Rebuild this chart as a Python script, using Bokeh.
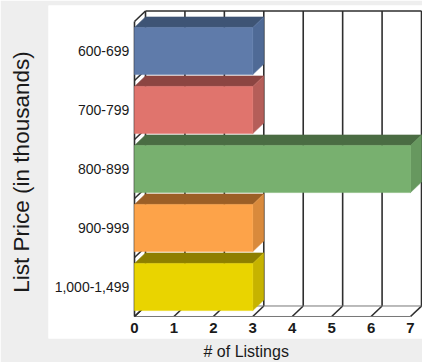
from bokeh.plotting import figure
from bokeh.models import Range1d, Title, ColumnDataSource, FixedTicker
from bokeh.core.properties import value
from bokeh.embed import file_html
from bokeh.resources import INLINE

# ---- data ----
categories = ["600-699", "700-799", "800-899", "900-999", "1,000-1,499"]
listings = [3, 3, 7, 3, 3]
x_ticks = [0, 1, 2, 3, 4, 5, 6, 7]
x_tick_labels = ["0", "1", "2", "3", "4", "5", "6", "7"]

front_colors = ["#5F7BAA", "#E0746D", "#78B06F", "#FDA349", "#E9D400"]
top_colors = ["#3E5475", "#8C4542", "#4A6C43", "#9B5F26", "#8E7F00"]
side_colors = ["#4F6A96", "#B55E59", "#67985F", "#D98A3C", "#C6B300"]

# ---- 3D styling ----
DX, DY = 0.279, 0.178     # depth offset in data units
HALF = 0.4                # half bar thickness
FONT = "Liberation Sans"

n = len(categories)
ypos = [n - 1 - i for i in range(n)]   # first category on top
xmax = max(x_ticks)
y_lo, y_hi = -0.5, n - 0.5

p = figure(width=422, height=362, output_backend="svg", toolbar_location=None,
           x_range=Range1d(-2.181, 7.304), y_range=Range1d(-0.873, 4.771),
           x_axis_location=None, min_border_left=48, min_border_right=0,
           min_border_top=5, min_border_bottom=24)
p.background_fill_color = "white"
p.border_fill_color = "#EEEEEE"
p.outline_line_color = None
p.grid.grid_line_color = None

# y axis only carries the title
ax = p.yaxis[0]
ax.ticker = FixedTicker(ticks=[])
ax.axis_label = "List Price (in thousands)"
ax.axis_label_text_font = FONT
ax.axis_label_text_font_size = "22.5px"
ax.axis_label_text_font_style = "normal"
ax.axis_label_text_color = "#1a1a1a"
ax.axis_label_standoff = 15
ax.major_label_standoff = 0
ax.major_tick_line_color = None
ax.minor_tick_line_color = None
ax.major_tick_out = 0
ax.major_tick_in = 0
ax.minor_tick_out = 0
ax.axis_line_color = None

# ---- back wall grid ----
wall_col = "#2e2e2e"
p.segment(x0=[k + DX for k in x_ticks], y0=[y_lo + DY] * len(x_ticks),
          x1=[k + DX for k in x_ticks], y1=[y_hi + DY] * len(x_ticks),
          line_color=wall_col, line_width=1.6)
p.segment(x0=[DX], y0=[y_hi + DY], x1=[xmax + DX], y1=[y_hi + DY],
          line_color=wall_col, line_width=1.6)

# ---- floor ----
p.segment(x0=x_ticks, y0=[y_lo] * len(x_ticks),
          x1=[k + DX for k in x_ticks], y1=[y_lo + DY] * len(x_ticks),
          line_color=wall_col, line_width=1.6)
p.segment(x0=[0, DX], y0=[y_lo, y_lo + DY], x1=[xmax, xmax + DX], y1=[y_lo, y_lo + DY],
          line_color="#777777", line_width=1)

# ---- left wall ----
bounds = [b - 0.5 for b in range(n + 1)]
p.segment(x0=[0] * len(bounds), y0=bounds, x1=[DX] * len(bounds),
          y1=[b + DY for b in bounds], line_color=wall_col, line_width=1.6)
p.segment(x0=[0], y0=[y_lo], x1=[0], y1=[y_hi], line_color=wall_col, line_width=1.6)

# ---- bars ----
tops_x, tops_y, sides_x, sides_y = [], [], [], []
for v, y in zip(listings, ypos):
    t, b = y + HALF, y - HALF
    tops_x.append([0, v, v + DX, DX])
    tops_y.append([t, t, t + DY, t + DY])
    sides_x.append([v, v + DX, v + DX, v])
    sides_y.append([b, b + DY, t + DY, t])

src = ColumnDataSource(dict(
    cat=categories, y=ypos, v=listings,
    bottom=[y - HALF for y in ypos], top=[y + HALF for y in ypos],
    left=[0] * n, fc=front_colors, tc=top_colors, sc=side_colors,
    tx=tops_x, ty=tops_y, sx=sides_x, sy=sides_y))

p.patches(xs="tx", ys="ty", fill_color="tc", line_color="tc", line_width=0.5, source=src)
p.patches(xs="sx", ys="sy", fill_color="sc", line_color="sc", line_width=0.5, source=src)
p.quad(left="left", right="v", bottom="bottom", top="top",
       fill_color="fc", line_color="fc", line_width=0.5, source=src)

# ---- category labels ----
p.text(x=[-0.13] * n, y=ypos, text=categories, text_align="right",
       text_baseline="middle", text_font=value(FONT), text_font_size="14px",
       text_color="#1a1a1a")

# ---- x tick labels ----
p.text(x=x_ticks, y=[-0.695] * len(x_ticks), text=x_tick_labels, text_align="center",
       text_baseline="middle", text_font=value(FONT), text_font_size="15px",
       text_font_style="bold", text_color="#1a1a1a")

# ---- x title ----
p.add_layout(Title(text="# of Listings", align="left", offset=155, standoff=4,
                   vertical_align="bottom",
                   text_font=FONT, text_font_size="16px", text_font_style="normal",
                   text_color="#1a1a1a"), "below")

open("out.html", "w").write(file_html(p, INLINE))
